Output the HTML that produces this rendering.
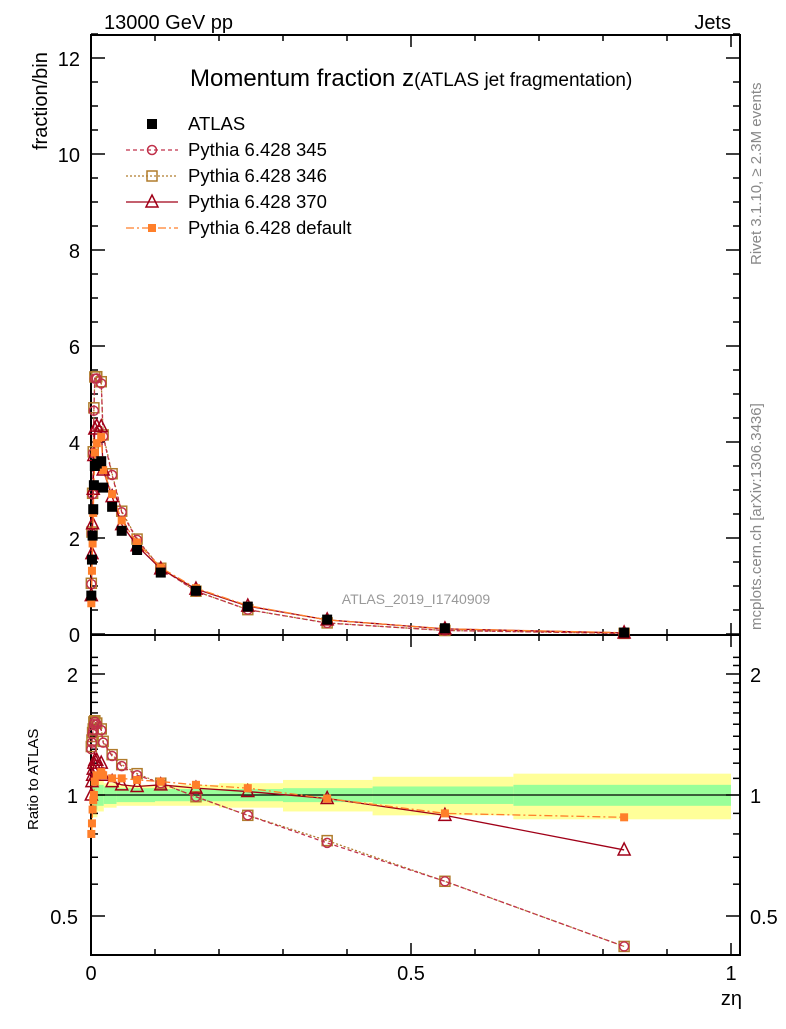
<!DOCTYPE html>
<html><head><meta charset="utf-8"><style>
body{margin:0;background:#fff;width:786px;height:1024px;overflow:hidden}
svg{font-family:"Liberation Sans",sans-serif}
</style></head><body>
<svg id="chart" width="786" height="1024" xmlns="http://www.w3.org/2000/svg">
<text x="104" y="29" font-size="20">13000 GeV pp</text>
<text x="731" y="29" font-size="20" text-anchor="end">Jets</text>
<text x="190" y="86" font-size="24">Momentum fraction z<tspan font-size="19">(ATLAS jet fragmentation)</tspan></text>
<text transform="translate(47,150) rotate(-90)" font-size="20" text-anchor="start">fraction/bin</text>
<text transform="translate(38,830) rotate(-90)" font-size="15">Ratio to ATLAS</text>
<text x="742" y="1005" font-size="20" text-anchor="end">zη</text>
<text transform="translate(761,265) rotate(-90)" font-size="15" fill="#888">Rivet 3.1.10, ≥ 2.3M events</text>
<text transform="translate(761,630) rotate(-90)" font-size="15" fill="#888">mcplots.cern.ch [arXiv:1306.3436]</text>
<text x="416" y="604" font-size="14" fill="#999" text-anchor="middle">ATLAS_2019_I1740909</text>
<g id="g"></g>
</svg>
<script>
const zvals=[0.0005,0.0015,0.0025,0.0035,0.0045,0.006,0.009,0.016,0.019,0.033,0.048,0.072,0.109,0.164,0.245,0.369,0.553,0.833];
const atlas=[0.8,1.55,2.05,2.6,3.1,3.5,3.55,3.6,3.05,2.65,2.15,1.75,1.28,0.9,0.57,0.3,0.12,0.03];
const r345=[1.3,1.35,1.42,1.45,1.5,1.52,1.5,1.45,1.35,1.25,1.18,1.12,1.07,0.99,0.89,0.76,0.61,0.42];
const r346=[1.32,1.37,1.43,1.46,1.52,1.53,1.51,1.46,1.36,1.26,1.19,1.13,1.07,0.99,0.89,0.77,0.61,0.42];
const r370=[1.0,1.08,1.12,1.16,1.2,1.22,1.22,1.2,1.12,1.08,1.06,1.05,1.06,1.04,1.02,0.98,0.89,0.73];
const rdef=[0.8,0.85,0.92,0.97,1.0,1.08,1.12,1.14,1.12,1.1,1.1,1.09,1.08,1.06,1.04,0.98,0.9,0.88];
const bandEdges=[0,0.003,0.01,0.02,0.04,0.1,0.2,0.3,0.44,0.66,1.0];
const greenHalf=[0.12,0.08,0.06,0.05,0.04,0.035,0.035,0.04,0.05,0.06];
const yellowHalf=[0.2,0.12,0.09,0.07,0.06,0.06,0.07,0.09,0.11,0.13];
const xTicks=[0,0.5,1];
const yTicks=[0,2,4,6,8,10,12];
const rTicks=[0.5,1,2];

const L=91,R=740,T=35,MB=635,RB=955;
const X=z=>L+z*640;
const Y=v=>634-v*48;
const YR=r=>795-121*Math.log2(r);
const ns="http://www.w3.org/2000/svg";
const g=document.getElementById('g');
function el(t,a,p){const e=document.createElementNS(ns,t);for(const k in a)e.setAttribute(k,a[k]);(p||g).appendChild(e);return e;}

for(let i=0;i<bandEdges.length-1;i++){
 const x0=X(bandEdges[i]),x1=X(Math.min(bandEdges[i+1],1.0));
 let e=el('rect',{x:x0,y:YR(1+yellowHalf[i]),width:x1-x0,height:YR(1-yellowHalf[i])-YR(1+yellowHalf[i]),fill:'#ffff99'});
 
 
 e=el('rect',{x:x0,y:YR(1+greenHalf[i]),width:x1-x0,height:YR(1-greenHalf[i])-YR(1+greenHalf[i]),fill:'#99ff99'});
 
 
}
el('line',{x1:L,x2:R,y1:YR(1),y2:YR(1),stroke:'#000','stroke-width':1.2});

for(const [t,b] of [[T,MB],[MB,RB]]){
 const f=el('rect',{x:L,y:t,width:R-L,height:b-t,fill:'none',stroke:'#000','stroke-width':2});
 
 
}
for(let i=0;i<=10;i++){const x=X(i/10),big=i%5==0?12:6;
 for(const [t,b] of [[T,MB],[MB,RB]]){el('line',{x1:x,x2:x,y1:b,y2:b-big,stroke:'#000','stroke-width':1.5});el('line',{x1:x,x2:x,y1:t,y2:t+big,stroke:'#000','stroke-width':1.5});}
}
xTicks.forEach(v=>{const t=el('text',{x:X(v),y:980,'font-size':20,'text-anchor':'middle'});t.textContent=v;
 
 });
for(let v=0;v<=12.5;v+=0.5){const y=Y(v),big=(v%2==0)?14:7;
 el('line',{x1:L,x2:L+big,y1:y,y2:y,stroke:'#000','stroke-width':1.5});el('line',{x1:R,x2:R-big,y1:y,y2:y,stroke:'#000','stroke-width':1.5});}
yTicks.forEach(v=>{const t=el('text',{x:80,y:Y(v)+8,'font-size':20,'text-anchor':'end'});t.textContent=v;
 
 });
[0.4,0.5,0.6,0.7,0.8,0.9,1,1.1,1.2,1.3,1.4,1.5,1.6,1.7,1.8,1.9,2,2.1,2.2].forEach(v=>{const y=YR(v);const big=rTicks.includes(v)?14:7;
 el('line',{x1:L,x2:L+big,y1:y,y2:y,stroke:'#000','stroke-width':1.5});el('line',{x1:R,x2:R-big,y1:y,y2:y,stroke:'#000','stroke-width':1.5});});
rTicks.forEach(v=>{for(const [x,a] of [[78,'end'],[750,'start']]){const t=el('text',{x:x,y:YR(v)+8,'font-size':20,'text-anchor':a});t.textContent=v;
 
 }});

function marker(type,x,y,c,name){
 let e;
 if(type=='sq')e=el('rect',{x:x-5,y:y-5,width:10,height:10,fill:c});
 else if(type=='fsq')e=el('rect',{x:x-4,y:y-4,width:8,height:8,fill:c});
 else if(type=='osq')e=el('rect',{x:x-5,y:y-5,width:10,height:10,fill:'none',stroke:c,'stroke-width':1.5});
 else if(type=='circ')e=el('circle',{cx:x,cy:y,r:4.5,fill:'none',stroke:c,'stroke-width':1.5});
 else e=el('path',{d:`M${x} ${y-7}L${x+6} ${y+5}L${x-6} ${y+5}Z`,fill:'none',stroke:c,'stroke-width':1.5});
 
 
}
const series=[
 {r:r346,c:'#b07c2c',m:'osq',d:'2,2',n:'pythia-346'},
 {r:r345,c:'#c0304a',m:'circ',d:'4,3',n:'pythia-345'},
 {r:r370,c:'#a00018',m:'tri',d:'',n:'pythia-370'},
 {r:rdef,c:'#ff7f2a',m:'fsq',d:'8,3,2,3',n:'pythia-default'}];
series.forEach(s=>{
 const main=zvals.map((z,i)=>[X(z),Y(atlas[i]*s.r[i])]);
 const rat=zvals.map((z,i)=>[X(z),YR(s.r[i])]);
 for(const pts of [main,rat]){
  const p=el('polyline',{points:pts.map(p=>p.join(',')).join(' '),fill:'none',stroke:s.c,'stroke-width':1.3,'stroke-dasharray':s.d});
  
  
  pts.forEach(q=>marker(s.m,q[0],q[1],s.c,s.n+'-point'));
 }
});
zvals.forEach((z,i)=>marker('sq',X(z),Y(atlas[i]),'#000','atlas-point'));

const leg=[['sq','#000','','ATLAS'],['circ','#c0304a','4,3','Pythia 6.428 345'],['osq','#b07c2c','2,2','Pythia 6.428 346'],['tri','#a00018','','Pythia 6.428 370'],['fsq','#ff7f2a','8,3,2,3','Pythia 6.428 default']];
leg.forEach((l,i)=>{const y=124+i*26;
 if(i>0){const ln=el('line',{x1:126,x2:178,y1:y,y2:y,stroke:l[1],'stroke-width':1.3,'stroke-dasharray':l[2]});
  
  }
 marker(l[0],152,y,l[1],'legend-marker');
 const t=el('text',{x:188,y:y+6,'font-size':18.5});t.textContent=l[3];
 
 
});
</script>
</body></html>
